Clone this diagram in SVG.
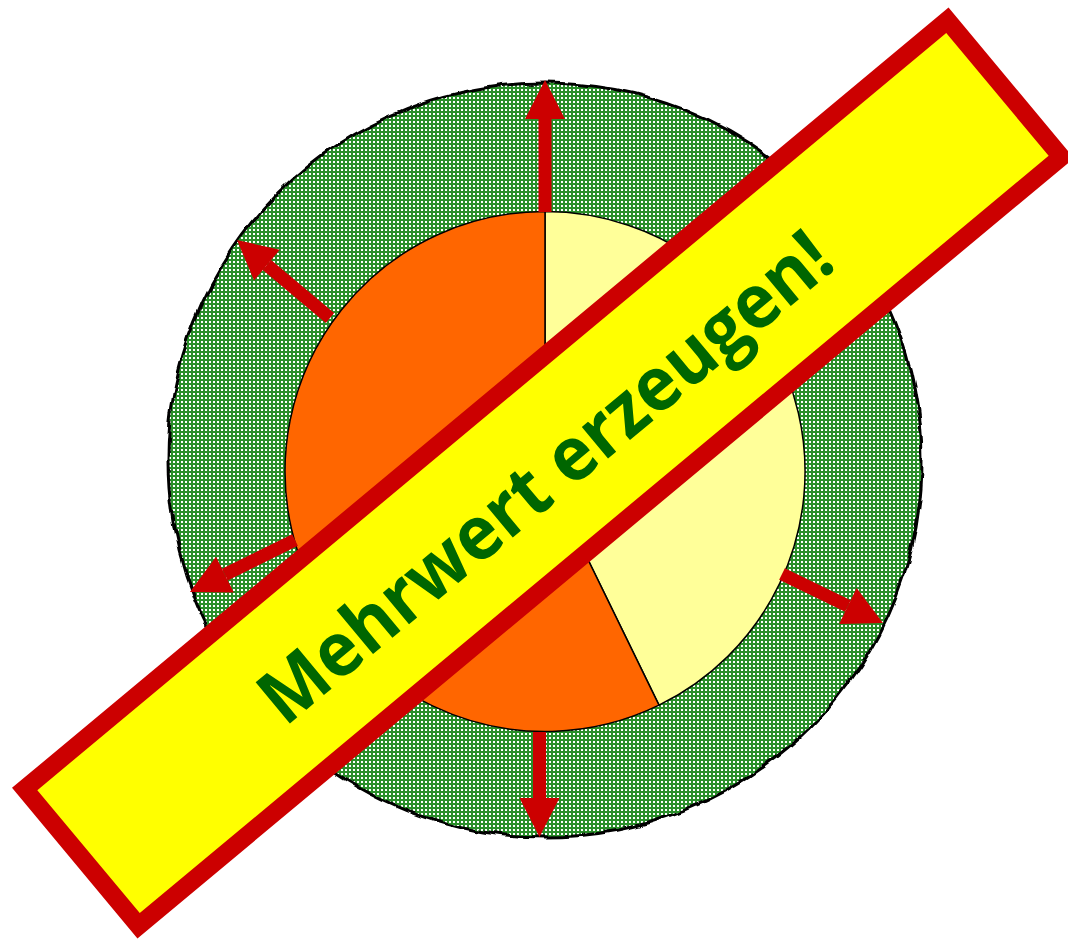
<svg xmlns="http://www.w3.org/2000/svg" width="1068" height="941" viewBox="0 0 1068 941">
  <style>
    .arrow { stroke: #CC0000; stroke-width: 13; fill: none; marker-end: url(#head); }
    .pie { stroke: #000000; stroke-width: 1.5; stroke-linejoin: round; }
    .label { font-family: "Open Sans", "Liberation Sans", sans-serif; font-weight: bold; fill: #006600; }
  </style>
  <defs>
    <pattern id="dots" width="4" height="4" patternUnits="userSpaceOnUse">
      <rect width="4" height="4" fill="#2A8F2A"/>
      <rect x="1" y="1" width="2" height="2" fill="#FFFFFF"/>
    </pattern>
    <filter id="rough" filterUnits="userSpaceOnUse" x="140" y="55" width="810" height="810">
      <feTurbulence type="fractalNoise" baseFrequency="0.035" numOctaves="2" seed="3" result="n"/>
      <feDisplacementMap in="SourceGraphic" in2="n" scale="9" xChannelSelector="R" yChannelSelector="G"/>
    </filter>
    <mask id="ringMask" maskUnits="userSpaceOnUse" x="0" y="0" width="1068" height="941">
      <circle cx="545" cy="460" r="377" fill="#FFFFFF" filter="url(#rough)"/>
    </mask>
    <marker id="head" markerUnits="userSpaceOnUse" markerWidth="60" markerHeight="60" refX="0" refY="0" orient="auto" overflow="visible">
      <path d="M0,-20 L39,0 L0,20 Z" fill="#CC0000"/>
    </marker>
  </defs>
  <rect width="1068" height="941" fill="#FFFFFF"/>

  <g id="ring">
    <rect x="150" y="65" width="790" height="790" fill="url(#dots)" mask="url(#ringMask)"/>
    <circle cx="545" cy="460" r="377" fill="none" stroke="#000000" stroke-width="3" filter="url(#rough)"/>
  </g>

  <g id="pie">
    <path class="pie" d="M545,471.5 L545,211.5 A260,260 0 0 1 659,705.2 Z" fill="#FFFF99"/>
    <path class="pie" d="M545,471.5 L659,705.2 A260,260 0 1 1 545,211.5 Z" fill="#FF6600"/>
  </g>

  <g id="connectors">
    <line class="arrow" x1="545" y1="212" x2="545" y2="119"/>
    <line class="arrow" x1="539.5" y1="732" x2="539.5" y2="798"/>
    <line class="arrow" x1="330" y1="318" x2="266.9" y2="265.1"/>
    <line class="arrow" x1="295" y1="540" x2="224.9" y2="574.7"/>
    <line class="arrow" x1="782" y1="574" x2="847.9" y2="606"/>
  </g>

  <g id="banner" transform="translate(543,473) rotate(-39.8)">
    <rect x="-600.5" y="-89" width="1201" height="178" fill="#FFFF00" stroke="#CC0000" stroke-width="18" stroke-linejoin="miter"/>
  </g>

  <g id="banner-label">
    <text class="label" transform="translate(561.5,497) rotate(-39.8)" x="0" y="0" text-anchor="middle" font-size="75" textLength="720" lengthAdjust="spacingAndGlyphs">Mehrwert erzeugen!</text>
  </g>
</svg>
